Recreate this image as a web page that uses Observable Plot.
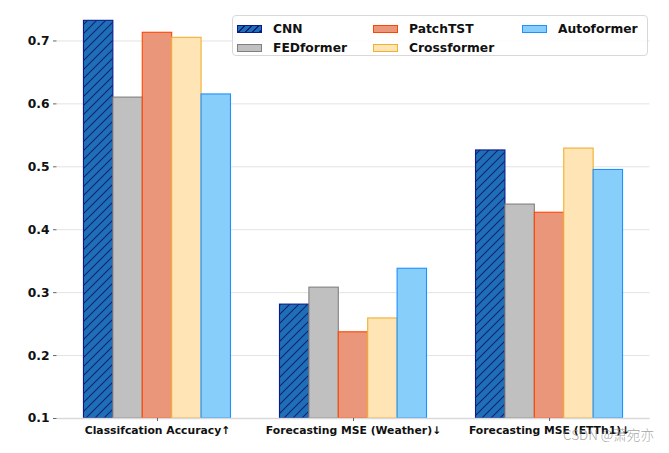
<!DOCTYPE html>
<html>
<head>
<meta charset="utf-8">
<script src="https://cdn.jsdelivr.net/npm/d3@7"></script>
<script src="https://cdn.jsdelivr.net/npm/@observablehq/plot@0.6"></script>
<style>
  body { margin: 0; background: #fff; }
  #wrap { position: relative; width: 669px; height: 453px; font-family: "DejaVu Sans", sans-serif; }
  #legend { position: absolute; left: 232px; top: 15px; width: 416px; height: 41px; box-sizing: border-box;
    border: 1px solid #d8d8d8; border-radius: 4px; background: rgba(255,255,255,0.85); }
  .item { position: absolute; display: flex; align-items: center; font-weight: bold; font-size: 12.3px; color: #111; }
  .sw { width: 25px; height: 7.5px; box-sizing: border-box; border: 1.2px solid; margin-right: 11px; }
  #wm { position: absolute; left: 563px; top: 424px; font-family: "Noto Sans CJK SC", sans-serif; font-weight: 300;
    font-size: 13.6px; line-height: 20px; color: rgba(140,140,140,0.8); white-space: nowrap; }
</style>
</head>
<body>
<div id="wrap">
  <div id="chart"></div>
  <div id="legend"></div>
  <div id="wm">CSDN @萧宛亦</div>
</div>
<script>
const groups = ["Classifcation Accuracy↑", "Forecasting MSE (Weather)↓", "Forecasting MSE (ETTh1)↓"];
const models = ["CNN", "FEDformer", "PatchTST", "Crossformer", "Autoformer"];
const cnn         = [0.732, 0.281, 0.526];
const fedformer   = [0.610, 0.308, 0.440];
const patchtst    = [0.713, 0.237, 0.427];
const crossformer = [0.705, 0.259, 0.529];
const autoformer  = [0.615, 0.338, 0.495];
const yTicks = [0.1, 0.2, 0.3, 0.4, 0.5, 0.6, 0.7];
const fills   = ["url(#hatchCNN)", "#c0c0c0", "#e9967a", "#ffe4b5", "#87cefa"];
const strokes = ["#0a1a8c", "#808080", "#ff4500", "#f0b030", "#1e90ff"];

const seriesValues = [cnn, fedformer, patchtst, crossformer, autoformer];
const barW = 0.15;
const rows = [];
seriesValues.forEach((vals, si) => vals.forEach((v, gi) => rows.push({
  model: models[si], si, group: groups[gi], gi, value: v,
  x1: gi + (si - 2) * barW - barW / 2, x2: gi + (si - 2) * barW + barW / 2
})));

const marks = [
  Plot.ruleY(yTicks, {stroke: "#e3e3e3", strokeWidth: 1})
];
models.forEach((m, si) => {
  marks.push(Plot.rectY(rows.filter(d => d.si === si), {
    x1: "x1", x2: "x2", y1: 0.1, y2: "value",
    fill: fills[si], stroke: strokes[si], strokeWidth: 1.1, inset: 0
  }));
});
marks.push(Plot.ruleY([0.1], {stroke: "#d9d9d9", strokeWidth: 1.6}));
marks.push(Plot.axisY({ticks: yTicks, tickFormat: d3.format(".1f"), tickSize: 3.5, tickPadding: 4,
  fontSize: 12.3, fontWeight: "bold", stroke: "#666", fill: "#111", label: null}));
marks.push(Plot.axisX({ticks: [0, 1, 2], tickFormat: i => groups[i], tickSize: 3, tickPadding: 5,
  fontSize: 10.8, fontWeight: "bold", stroke: "#666", fill: "#111", label: null}));

const plot = Plot.plot({
  width: 669, height: 453,
  marginLeft: 56.5, marginRight: 19.5, marginTop: 9, marginBottom: 35,
  style: {fontFamily: "DejaVu Sans", background: "white"},
  x: {type: "linear", domain: [-0.5125, 2.5125], axis: null, label: null},
  y: {domain: [0.1, 0.75], axis: null, label: null},
  marks
});

const defs = `<defs><pattern id="hatchCNN" patternUnits="userSpaceOnUse" width="9" height="9">
  <rect width="9" height="9" fill="#1f6fb4"/>
  <path d="M-2,2 L2,-2 M0,9 L9,0 M7,11 L11,7" stroke="#0b1f80" stroke-width="1.1"/></pattern></defs>`;
plot.insertAdjacentHTML("afterbegin", defs);
document.getElementById("chart").appendChild(plot);

// legend
const legend = document.getElementById("legend");
const pos = [[4, 6], [4, 25], [140, 6], [140, 25], [289, 6]];
models.forEach((m, si) => {
  const it = document.createElement("div");
  it.className = "item";
  it.style.left = pos[si][0] + "px";
  it.style.top = pos[si][1] + "px";
  const sw = document.createElement("div");
  sw.className = "sw";
  sw.style.borderColor = strokes[si];
  if (si === 0) {
    sw.style.background = "repeating-linear-gradient(135deg, #1f6fb4 0px, #1f6fb4 4px, #0b1f80 4px, #0b1f80 5px)";
  } else sw.style.background = fills[si];
  it.appendChild(sw);
  const t = document.createElement("span");
  t.textContent = m;
  it.appendChild(t);
  legend.appendChild(it);
});
</script>
</body>
</html>
